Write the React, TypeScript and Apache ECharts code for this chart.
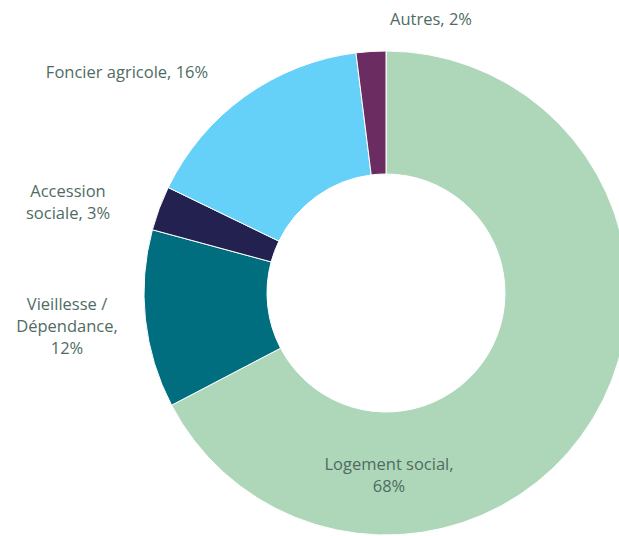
import React, { useEffect, useRef } from "react";
import * as echarts from "echarts";

const categories = ["Logement social", "Vieillesse / Dépendance", "Accession sociale", "Foncier agricole", "Autres"];
const values = [68, 12, 3, 16, 2];
const labelTexts = ["Logement social,\n68%", "Vieillesse /\nDépendance,\n12%", "Accession\nsociale, 3%", "Foncier agricole, 16%", "Autres, 2%"];
const colors = ["#aed6b8", "#006e7f", "#23214f", "#66d1f8", "#6b2c62"];
const labelAnchors = [
  [389, 474],
  [67, 325],
  [68, 201],
  [127, 71],
  [431, 18],
];

export default function App() {
  const ref = useRef<HTMLDivElement>(null);
  useEffect(() => {
    const chart = echarts.init(ref.current!, undefined, { renderer: "svg" });
    chart.setOption({
      animation: false,
      series: [
        {
          type: "pie",
          center: [386, 293],
          radius: [119, 242],
          startAngle: 90,
          clockwise: true,
          avoidLabelOverlap: false,
          itemStyle: { borderColor: "#ffffff", borderWidth: 1 },
          label: {
            show: true,
            position: "outside",
            fontFamily: "Open Sans",
            fontSize: 16.5,
            lineHeight: 22,
            color: "#4f6c63",
            align: "center",
            formatter: (p: any) => labelTexts[p.dataIndex],
          },
          labelLine: { show: false },
          labelLayout: (p: any) => ({
            x: labelAnchors[p.dataIndex][0],
            y: labelAnchors[p.dataIndex][1],
            align: "center",
            verticalAlign: "middle",
          }),
          emphasis: { disabled: true },
          data: categories.map((name, i) => ({
            name,
            value: values[i],
            itemStyle: { color: colors[i] },
          })),
        },
      ],
    });
    return () => chart.dispose();
  }, []);
  return <div ref={ref} style={{ position: "absolute", left: 0, top: 0, width: 619, height: 536 }} />;
}
